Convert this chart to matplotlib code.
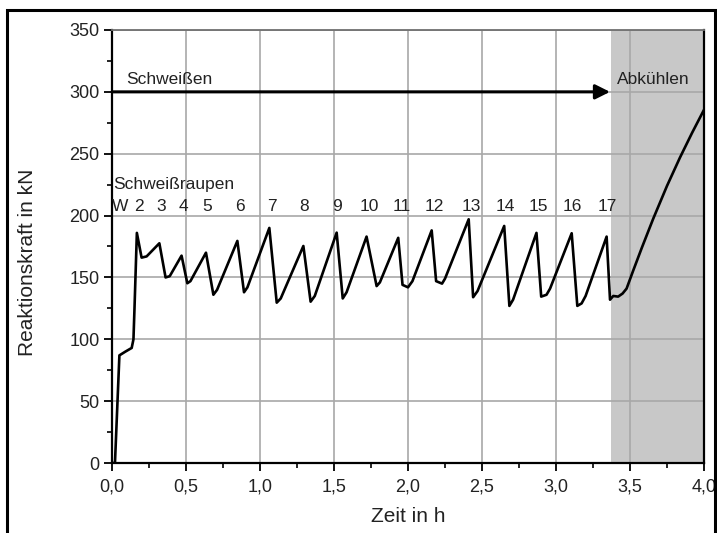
import matplotlib
matplotlib.use("Agg")
import matplotlib.pyplot as plt
from matplotlib.patches import Rectangle
from matplotlib.ticker import MultipleLocator, FuncFormatter

plt.rcParams['font.family'] = ['Liberation Sans', 'DejaVu Sans']

# Reaction force curve (time in h, force in kN)
time_h = [0.0, 0.02, 0.05, 0.09, 0.133, 0.145, 0.152, 0.168,
          0.20, 0.234, 0.32, 0.362, 0.39, 0.47, 0.509, 0.53,
          0.635, 0.685, 0.71, 0.847, 0.892, 0.915, 1.063, 1.113, 1.14,
          1.293, 1.342, 1.37, 1.518, 1.559, 1.585, 1.72, 1.788, 1.81,
          1.934, 1.963, 2.0, 2.03, 2.16, 2.19, 2.23, 2.25, 2.41, 2.44, 2.47,
          2.65, 2.685, 2.71, 2.868, 2.90, 2.936, 2.96, 3.106, 3.144, 3.173, 3.20,
          3.342, 3.365, 3.387, 3.42, 3.45, 3.477, 3.52, 3.58, 3.657, 3.75,
          3.838, 3.92, 4.0]
force_kN = [0, 0, 87, 90, 93, 100, 125, 186,
            166, 167, 177.6, 150, 151, 167.6, 145.3, 147,
            170, 136, 140, 179.5, 138, 142, 190, 129.6, 133,
            175.4, 130.4, 135, 186.2, 133, 138, 183, 143, 146,
            182, 144, 142, 147, 188, 147, 145, 149, 197, 134, 139,
            191.6, 127, 132, 186, 134.5, 136, 141, 185.7, 127, 129, 135,
            183, 132, 135, 134.5, 137, 141, 155, 174, 197.5, 224,
            247, 267, 285.5]

bead_labels = ['W', '2', '3', '4', '5', '6', '7', '8', '9', '10', '11',
               '12', '13', '14', '15', '16', '17']
bead_pos = [0.055, 0.18, 0.33, 0.48, 0.64, 0.865, 1.08, 1.30, 1.52, 1.74, 1.96,
            2.18, 2.43, 2.66, 2.88, 3.11, 3.35]

cooling_start = 3.37
x_ticks = [0.0, 0.5, 1.0, 1.5, 2.0, 2.5, 3.0, 3.5, 4.0]
y_ticks = [0, 50, 100, 150, 200, 250, 300, 350]

fig = plt.figure(figsize=(7.17, 5.33), dpi=100)
ax = fig.add_axes([112/717, 1 - 463/533, (704-112)/717, (463-30)/533])

# outer frame
fig.patches.append(Rectangle((7/717, -0.1), 708/717, 1.1 - 10/533,
                             transform=fig.transFigure, fill=False,
                             edgecolor='black', linewidth=2.2, clip_on=False))

ax.axvspan(cooling_start, 4.0, color='#c8c8c8', zorder=0, lw=0)
ax.set_xlim(0, 4.0)
ax.set_ylim(0, 350)
ax.set_xticks(x_ticks)
ax.set_yticks(y_ticks)
ax.xaxis.set_minor_locator(MultipleLocator(0.25))
ax.yaxis.set_minor_locator(MultipleLocator(25))
ax.xaxis.set_major_formatter(FuncFormatter(lambda v, p: f"{v:.1f}".replace('.', ',')))
ax.grid(True, which='major', color='#a8a8a8', linewidth=1.2, zorder=1)
ax.set_axisbelow(True)
ax.tick_params(which='major', direction='out', length=6, width=1.3, labelsize=13,
               colors='black', labelcolor='#222222')
ax.tick_params(which='minor', direction='out', length=3.5, width=1.2)
ax.tick_params(axis='x', pad=5)
ax.tick_params(axis='y', pad=3)
for s in ['left', 'bottom', 'right']:
    ax.spines[s].set_linewidth(1.6)
    ax.spines[s].set_color('black')
ax.spines['top'].set_color('#707070')
ax.spines['top'].set_linewidth(1.3)

ax.plot(time_h, force_kN, color='black', lw=1.9, solid_joinstyle='round', zorder=4)

ax.annotate('', xy=(cooling_start - 0.005, 300), xytext=(0, 300),
            arrowprops=dict(arrowstyle='-|>', color='black', lw=2.2,
                            mutation_scale=22, shrinkA=0, shrinkB=0), zorder=5)
tc = '#222222'
ax.text(0.095, 310, 'Schweißen', fontsize=12.5, va='center', ha='left', color=tc)
ax.text(3.41, 310, 'Abkühlen', fontsize=12.5, va='center', ha='left', color=tc)
ax.text(0.01, 225, 'Schweißraupen', fontsize=12.5, va='center', ha='left', color=tc)
for lab, pos in zip(bead_labels, bead_pos):
    ax.text(pos, 207, lab, fontsize=12.5, va='center', ha='center', color=tc)

ax.set_xlabel('Zeit in h', fontsize=15, color=tc)
ax.set_ylabel('Reaktionskraft in kN', fontsize=15, color=tc)
ax.xaxis.set_label_coords(0.5, (463 - 507) / 433, transform=ax.transAxes)
ax.yaxis.set_label_coords((37 - 112) / 592, (463 - 262) / 433, transform=ax.transAxes)

fig.savefig('out.png', dpi=100)
